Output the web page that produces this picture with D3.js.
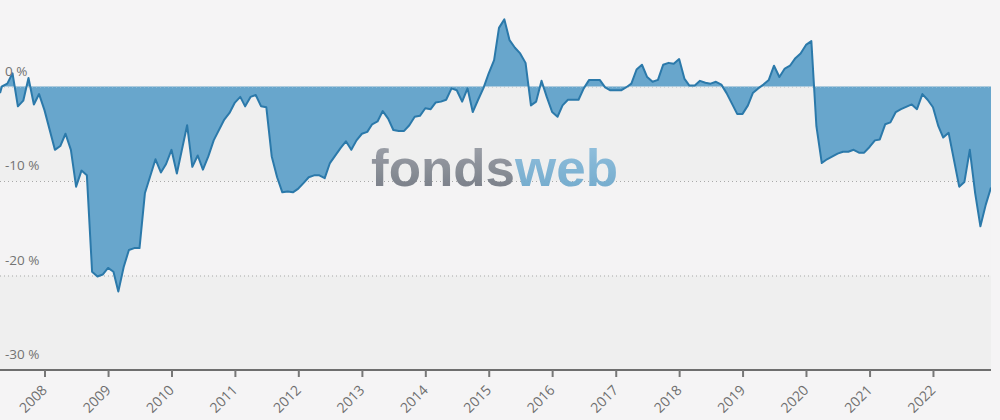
<!DOCTYPE html>
<html>
<head>
<meta charset="utf-8">
<script src="https://cdn.jsdelivr.net/npm/d3@7"></script>
<style>
  html, body { margin: 0; padding: 0; background: #f5f4f5; }
  svg { display: block; }
</style>
</head>
<body>
<svg id="mysvg" width="1000" height="420"></svg>
<script>
// monthly values, % relative
const dates = [
  "2007-04-20","2007-05-01","2007-06-01","2007-07-01","2007-08-01","2007-09-01","2007-10-01","2007-11-01","2007-12-01",
  "2008-01-01","2008-03-01","2008-04-01","2008-05-01","2008-06-01","2008-07-01","2008-08-01","2008-09-01","2008-10-01","2008-11-01","2008-12-01",
  "2009-01-01","2009-02-01","2009-03-01","2009-04-01","2009-05-01","2009-06-01","2009-07-01","2009-08-01","2009-10-01","2009-11-01","2009-12-01",
  "2010-01-01","2010-02-01","2010-04-01","2010-05-01","2010-06-01","2010-07-01","2010-08-01","2010-09-01","2010-11-01","2010-12-01",
  "2011-01-01","2011-02-01","2011-03-01","2011-04-01","2011-05-01","2011-06-01","2011-07-01","2011-08-01","2011-09-01","2011-10-01","2011-11-01","2011-12-01",
  "2012-01-01","2012-02-01","2012-03-01","2012-04-01","2012-05-01","2012-06-01","2012-07-01","2012-09-01","2012-10-01","2012-11-01","2012-12-01",
  "2013-01-01","2013-02-01","2013-03-01","2013-04-01","2013-05-01","2013-06-01","2013-07-01","2013-08-01","2013-09-01","2013-10-01","2013-11-01","2013-12-01",
  "2014-01-01","2014-02-01","2014-03-01","2014-04-01","2014-05-01","2014-06-01","2014-07-01","2014-08-01","2014-09-01","2014-10-01","2014-11-01","2014-12-01",
  "2015-01-01","2015-02-01","2015-03-01","2015-04-01","2015-05-01","2015-06-01","2015-07-01","2015-08-01","2015-09-01","2015-10-01","2015-11-01","2015-12-01",
  "2016-01-01","2016-02-01","2016-03-01","2016-04-01","2016-05-01","2016-06-01","2016-07-01","2016-08-01","2016-10-01","2016-11-01","2016-12-01",
  "2017-02-01","2017-03-01","2017-04-01","2017-05-01","2017-06-01","2017-07-01","2017-08-01","2017-09-01","2017-10-01","2017-11-01","2017-12-01",
  "2018-01-01","2018-02-01","2018-03-01","2018-04-01","2018-05-01","2018-06-01","2018-07-01","2018-08-01","2018-09-01","2018-10-01","2018-12-01",
  "2019-01-01","2019-02-01","2019-03-01","2019-04-01","2019-05-01","2019-06-01","2019-07-01","2019-08-01","2019-09-01","2019-10-01","2019-11-01","2019-12-01",
  "2020-01-01","2020-02-01","2020-03-01","2020-04-01","2020-05-01","2020-07-01","2020-08-01","2020-09-01","2020-10-01","2020-11-01","2020-12-01",
  "2021-01-01","2021-02-01","2021-03-01","2021-04-01","2021-05-01","2021-06-01","2021-07-01","2021-09-01","2021-10-01","2021-11-01","2021-12-01",
  "2022-01-01","2022-02-01","2022-03-01","2022-04-01","2022-06-01","2022-07-01","2022-08-01","2022-09-01","2022-10-01","2022-11-01","2022-12-01"
];

const values = [
  -0.7, 0.0, 0.3, 1.4, -2.1, -1.5, 0.9, -1.9, -0.8,
  -2.5, -6.7, -6.3, -5.0, -6.7, -10.6, -8.9, -9.4, -19.6, -20.1, -19.9,
  -19.2, -19.6, -21.7, -19.1, -17.3, -17.1, -17.1, -11.3, -7.7, -9.1, -8.2,
  -6.7, -9.2, -4.1, -8.5, -7.3, -8.8, -7.4, -5.7, -3.5, -2.8,
  -1.7, -1.1, -2.1, -1.1, -0.9, -2.1, -2.2, -7.4, -9.6, -11.2, -11.1, -11.2,
  -10.8, -10.2, -9.6, -9.4, -9.4, -9.7, -8.1, -6.5, -5.8, -6.7, -5.7,
  -5.0, -4.8, -4.0, -3.7, -2.6, -3.4, -4.6, -4.7, -4.7, -4.1, -3.2, -3.1,
  -2.3, -2.4, -1.7, -1.6, -1.4, -0.2, -0.4, -1.6, -0.2, -2.7, -1.4, -0.2,
  1.4, 2.8, 6.2, 7.1, 4.9, 4.1, 3.5, 2.5, -2.0, -1.6, 0.6, -1.1,
  -2.7, -3.2, -2.0, -1.4, -1.4, -1.4, -0.2, 0.7, 0.7, -0.1, -0.4,
  -0.4, -0.1, 0.3, 1.8, 2.3, 1.0, 0.5, 0.7, 2.3, 2.5, 2.4,
  2.9, 0.8, 0.1, 0.1, 0.6, 0.4, 0.3, 0.5, 0.2, -0.7, -2.9,
  -2.9, -2.0, -0.7, -0.2, 0.2, 0.7, 2.2, 1.0, 1.9, 2.2, 3.0, 3.5,
  4.4, 4.8, -4.2, -8.1, -7.7, -7.1, -6.9, -6.9, -6.7, -7.0, -7.0,
  -6.4, -5.7, -5.6, -4.0, -3.8, -2.7, -2.4, -1.9, -2.4, -0.8, -1.4,
  -2.2, -4.2, -5.4, -4.9, -10.6, -10.1, -6.7, -11.3, -14.8, -12.5, -10.7
];

const yTicks = [0, -10, -20, -30];
const tickYears = [2008, 2009, 2010, 2011, 2012, 2013, 2014, 2015, 2016, 2017, 2018, 2019, 2020, 2021, 2022];

const parse = d3.timeParse("%Y-%m-%d");
const data = dates.map((d, i) => ({ date: parse(d), value: values[i] }));

const svg = d3.select("#mysvg");
const plotLeft = 0, plotRight = 991;
const axisY = 370;

const x = d3.scaleTime()
  .domain([parse("2007-04-20"), parse("2022-12-01")])
  .range([plotLeft, plotRight]);

const y = d3.scaleLinear()
  .domain([-30, 10])
  .range([axisY, axisY - 40 * 9.45]);

// gradients for the watermark
const defs = svg.append("defs");
function addGrad(id, top, bottom) {
  const g = defs.append("linearGradient").attr("id", id)
    .attr("x1", 0).attr("y1", 0).attr("x2", 0).attr("y2", 1);
  g.append("stop").attr("offset", "0%").attr("stop-color", top);
  g.append("stop").attr("offset", "100%").attr("stop-color", bottom);
}
addGrad("gradGray", "#9da1a9", "#6e747e");
addGrad("gradBlue", "#90c0dd", "#6aa5ca");

defs.append("clipPath").attr("id", "plotClip")
  .append("rect")
  .attr("x", plotLeft).attr("y", 0)
  .attr("width", plotRight - plotLeft).attr("height", axisY);

// bands
const bands = [[0, -10, "#efefef"], [-10, -20, "#f4f3f4"], [-20, -30, "#efefef"]];
svg.append("g").selectAll("rect")
  .data(bands)
  .join("rect")
  .attr("x", plotLeft)
  .attr("width", plotRight - plotLeft)
  .attr("y", (d) => y(d[0]))
  .attr("height", (d) => y(d[1]) - y(d[0]))
  .attr("fill", (d) => d[2]);

// dotted grid
svg.append("g").selectAll("line")
  .data(yTicks.filter((d) => d > -30))
  .join("line")
  .attr("x1", plotLeft).attr("x2", plotRight)
  .attr("y1", (d) => y(d) + 0.5).attr("y2", (d) => y(d) + 0.5)
  .attr("stroke", "#a9a9a9")
  .attr("stroke-width", 1)
  .attr("stroke-dasharray", "1,3");

const area = d3.area()
  .x((d) => x(d.date))
  .y0(y(0))
  .y1((d) => y(d.value));

const line = d3.line()
  .x((d) => x(d.date))
  .y((d) => y(d.value));

const plot = svg.append("g").attr("clip-path", "url(#plotClip)");

plot.append("path")
  .datum(data)
  .attr("d", area)
  .attr("fill", "#68a6cc");

plot.append("line")
  .attr("x1", plotLeft).attr("x2", plotRight)
  .attr("y1", y(0) + 0.5).attr("y2", y(0) + 0.5)
  .attr("stroke", "#d8e6f0")
  .attr("stroke-opacity", 0.6)
  .attr("stroke-dasharray", "1,3");

plot.append("path")
  .datum(data)
  .attr("d", line)
  .attr("fill", "none")
  .attr("stroke", "#2b79aa")
  .attr("stroke-width", 2)
  .attr("stroke-linejoin", "round");

// y labels
svg.append("g").selectAll("text")
  .data(yTicks)
  .join("text")
  .attr("x", 5)
  .attr("y", (d) => y(d) - 11)
  .attr("font-family", "Open Sans, sans-serif")
  .attr("font-size", 13.5)
  .attr("fill", "#737373")
  .text((d) => d + " %");

// x axis
const xAxis = d3.axisBottom(x)
  .tickValues(tickYears.map((yr) => new Date(yr, 0, 1)))
  .tickFormat(d3.timeFormat("%Y"))
  .tickSize(7)
  .tickSizeOuter(0);

const gx = svg.append("g")
  .attr("transform", `translate(0,${axisY})`)
  .call(xAxis);

gx.select(".domain")
  .attr("stroke", "#6e6e6e")
  .attr("stroke-width", 2)
  .attr("d", `M${plotLeft},0H${plotRight}`);
gx.selectAll(".tick line").attr("stroke", "#777").attr("stroke-width", 2);
gx.selectAll(".tick text")
  .attr("font-family", "Open Sans, sans-serif")
  .attr("font-size", 14)
  .attr("fill", "#6e6e6e")
  .attr("text-anchor", "end")
  .attr("dy", 0)
  .attr("transform", "translate(3,21) rotate(-45)")
  .attr("y", 0)
  .attr("x", 0);

// watermark
const wm = svg.append("text")
  .attr("x", 371)
  .attr("y", 186)
  .attr("font-family", "Liberation Sans, Arial, sans-serif")
  .attr("font-weight", "bold")
  .attr("font-size", 52)
  .attr("textLength", 247)
  .attr("lengthAdjust", "spacingAndGlyphs")
  .attr("opacity", 0.95);
wm.append("tspan").attr("fill", "url(#gradGray)").text("fonds");
wm.append("tspan").attr("fill", "url(#gradBlue)").text("web");
</script>
</body>
</html>
